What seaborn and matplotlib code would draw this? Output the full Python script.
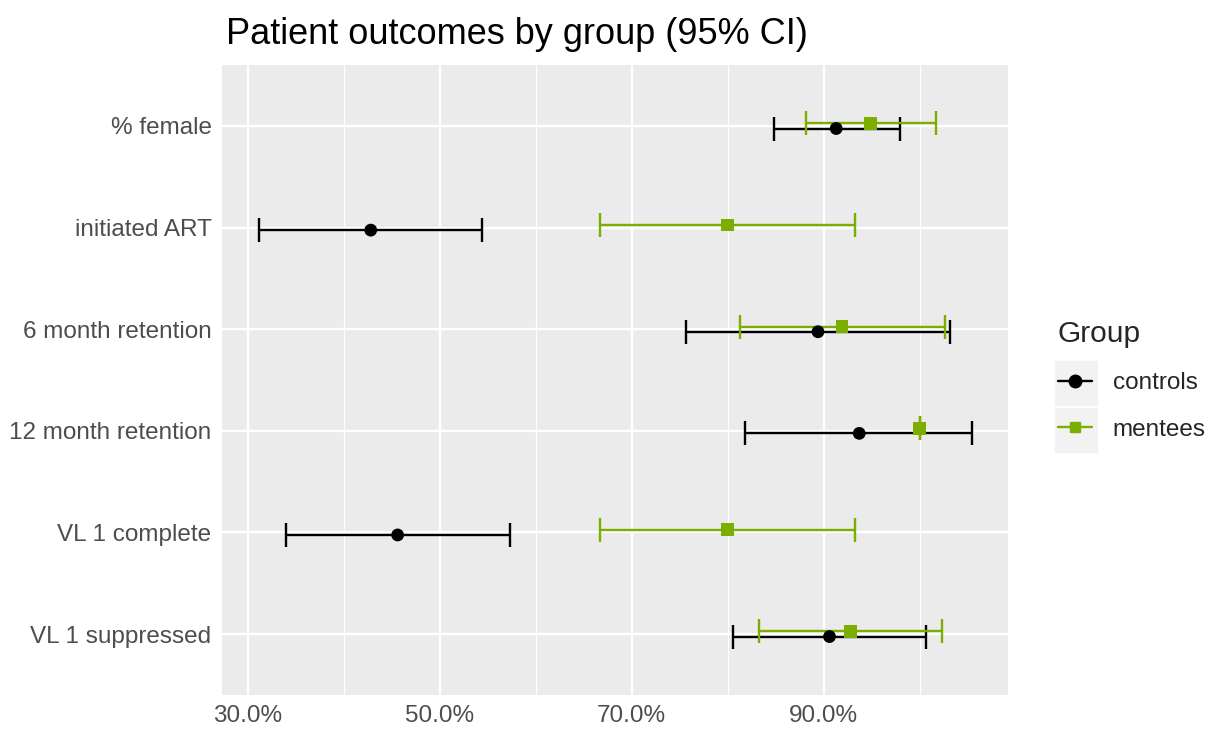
import pandas as pd
import matplotlib.pyplot as plt
import seaborn as sns
from matplotlib.lines import Line2D
from matplotlib.patches import Rectangle
from matplotlib.ticker import FixedLocator

# Data (percent)
outcomes = ["% female", "initiated ART", "6 month retention",
            "12 month retention", "VL 1 complete", "VL 1 suppressed"]
controls_est = [91.3, 42.8, 89.4, 93.7, 45.6, 90.6]
controls_lo = [84.8, 31.2, 75.6, 81.8, 34.0, 80.5]
controls_hi = [97.9, 54.4, 103.2, 105.5, 57.3, 100.7]
mentees_est = [94.9, 80.0, 91.9, 100.0, 80.0, 92.8]
mentees_lo = [88.2, 66.7, 81.3, 100.0, 66.7, 83.3]
mentees_hi = [101.7, 93.3, 102.6, 100.0, 93.3, 102.3]
groups = ["controls", "mentees"]
colors = {"controls": "black", "mentees": "#7CAE00"}
markers = {"controls": "o", "mentees": "s"}

rows = []
for g, est, lo, hi in [("controls", controls_est, controls_lo, controls_hi),
                       ("mentees", mentees_est, mentees_lo, mentees_hi)]:
    for i, o in enumerate(outcomes):
        rows.append({"outcome": o, "group": g, "pos": i,
                     "est": est[i], "lo": lo[i], "hi": hi[i]})
df = pd.DataFrame(rows)
# small dodge like position_dodge
df["y"] = df["pos"] + df["group"].map({"controls": 0.025, "mentees": -0.025})

sns.set_theme(style="darkgrid", rc={"axes.facecolor": "#EBEBEB",
                                    "grid.color": "white"})
plt.rcParams["font.family"] = ["Liberation Sans", "DejaVu Sans"]

fig, ax = plt.subplots(figsize=(12.09, 7.38), dpi=100)
fig.subplots_adjust(left=222/1209, right=1008/1209, top=1-65/738, bottom=1-695/738)

for g in groups:
    d = df[df["group"] == g]
    ax.errorbar(d["est"], d["y"], xerr=[d["est"] - d["lo"], d["hi"] - d["est"]],
                fmt="none", ecolor=colors[g], elinewidth=1.7, capsize=8.5,
                capthick=1.7, zorder=3)

sns.scatterplot(data=df, x="est", y="y", hue="group", style="group",
                palette=colors, markers=markers, s=85, linewidth=0,
                legend=False, zorder=4, ax=ax)

ax.set_xlim(27.3, 109.2)
ax.set_ylim(5.6, -0.6)
ax.set_xticks([30, 50, 70, 90])
ax.set_xticklabels(["30.0%", "50.0%", "70.0%", "90.0%"])
ax.xaxis.set_minor_locator(FixedLocator([40, 60, 80, 100]))
ax.set_yticks(range(len(outcomes)))
ax.set_yticklabels(outcomes)
ax.grid(which="major", color="white", linewidth=1.7)
ax.grid(which="minor", axis="x", color="white", linewidth=0.8)
ax.tick_params(which="major", length=4.5, width=1.2, color="#333333",
               labelcolor="#4D4D4D", labelsize=17.5, pad=3)
ax.tick_params(which="minor", length=0)
ax.set_xlabel("")
ax.set_ylabel("")
for s in ax.spines.values():
    s.set_visible(False)

ax.set_title("Patient outcomes by group (95% CI)", loc="left", fontsize=26,
             color="black", pad=15, x=0.005)

handles = [Line2D([0], [0], color=colors[g], marker=markers[g], lw=1.7,
                  markersize=9 if g == "controls" else 7.5) for g in groups]
leg = fig.legend(handles, groups, title="Group", loc="upper left",
                 bbox_to_anchor=(1036/1209, 1-298/738), frameon=False,
                 fontsize=17.5, title_fontsize=21.5, handlelength=1.4,
                 labelspacing=1.0, handletextpad=0.85)
leg._legend_box.align = "left"
for yk in [361, 408]:
    fig.patches.append(Rectangle((1055/1209, 1-(yk+44)/738), 42/1209, 44/738,
                                 transform=fig.transFigure, color="#F2F2F2",
                                 zorder=-1))

plt.savefig("out.png", dpi=100)
